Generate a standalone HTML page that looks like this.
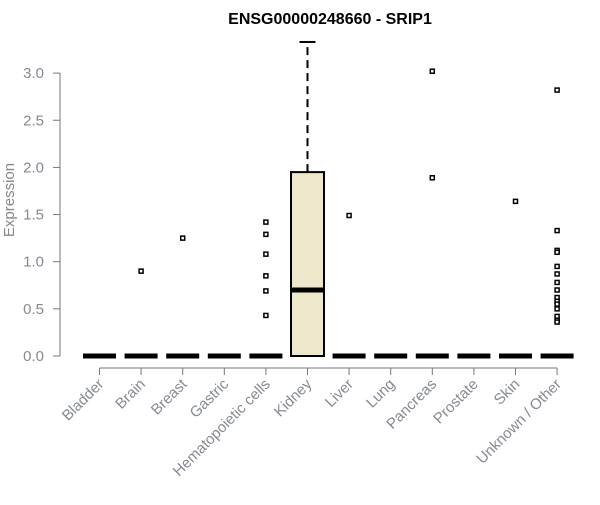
<!DOCTYPE html>
<html><head><meta charset="utf-8"><style>
body{margin:0;background:#fff;font-family:"Liberation Sans",Arial,sans-serif}
</style></head><body>
<svg width="600" height="500" xmlns="http://www.w3.org/2000/svg">
<text x="330" y="24" text-anchor="middle" font-weight="bold" font-size="16">ENSG00000248660 - SRIP1</text>
<text transform="translate(14,200) rotate(-90)" text-anchor="middle" font-size="15" fill="#888">Expression</text>
<g id="plot"></g>
</svg>
<script>
const categories=["Bladder","Brain","Breast","Gastric","Hematopoietic cells","Kidney","Liver","Lung","Pancreas","Prostate","Skin","Unknown / Other"];
const q1=[0,0,0,0,0,0,0,0,0,0,0,0];
const medians=[0,0,0,0,0,0.70,0,0,0,0,0,0];
const q3=[0,0,0,0,0,1.95,0,0,0,0,0,0];
const whiskerHigh=[0,0,0,0,0,3.33,0,0,0,0,0,0];
const outliers=[[],[0.9],[1.25],[],[1.42,1.29,1.08,0.85,0.69,0.43],[],[1.49],[],[3.02,1.89],[],[1.64],[2.82,1.33,1.12,1.1,0.95,0.87,0.78,0.7,0.62,0.58,0.55,0.5,0.42,0.38,0.36]];
const yTicks=[0,0.5,1,1.5,2,2.5,3];
const ns="http://www.w3.org/2000/svg";
const g=document.getElementById('plot');
const y=v=>356-v*94.3;
const x=i=>99.5+i*41.6;
function mk(t,a){const e=document.createElementNS(ns,t);for(const k in a)e.setAttribute(k,a[k]);g.appendChild(e);return e;}
let ax=mk('line',{x1:60,x2:60,y1:y(0),y2:y(3),stroke:'#777'});


yTicks.forEach(v=>{
 const t=mk('line',{x1:53,x2:60,y1:y(v),y2:y(v),stroke:'#777'});
 
 
 const l=mk('text',{x:44,y:y(v)+5,'text-anchor':'end','font-size':15,fill:'#858a93'});
 l.textContent=v.toFixed(1);
 
 
});
let xa=mk('line',{x1:x(0),x2:x(categories.length-1),y1:368,y2:368,stroke:'#777'});


categories.forEach((c,i)=>{
 const cx=x(i),w=33;
 const t=mk('line',{x1:cx,x2:cx,y1:368,y2:375,stroke:'#777'});
 
 
 const l=mk('text',{x:cx+5,y:385,'text-anchor':'end','font-size':15,fill:'#858a93',transform:`rotate(-45 ${cx+5} 385)`});
 l.textContent=c;
 
 
 if(whiskerHigh[i]>q3[i]){
  const wl=mk('line',{x1:cx,x2:cx,y1:y(q3[i]),y2:y(whiskerHigh[i]),stroke:'#000','stroke-width':2,'stroke-dasharray':'8,5'});
  
  
  const cap=mk('line',{x1:cx-8,x2:cx+8,y1:y(whiskerHigh[i]),y2:y(whiskerHigh[i]),stroke:'#000','stroke-width':2});
  
  
 }
 if(q3[i]>q1[i]){
  const b=mk('rect',{x:cx-w/2,y:y(q3[i]),width:w,height:y(q1[i])-y(q3[i]),fill:'#ede7cc',stroke:'#000','stroke-width':2});
  
  
 }
 const m=mk('line',{x1:cx-w/2,x2:cx+w/2,y1:y(medians[i]),y2:y(medians[i]),stroke:'#000','stroke-width':5});
 
 
 outliers[i].forEach(v=>{
  const o=mk('rect',{x:cx-2,y:y(v)-2,width:4,height:4,fill:'#fff',stroke:'#000','stroke-width':1.5});
  
  
 });
});
</script>
</body></html>
